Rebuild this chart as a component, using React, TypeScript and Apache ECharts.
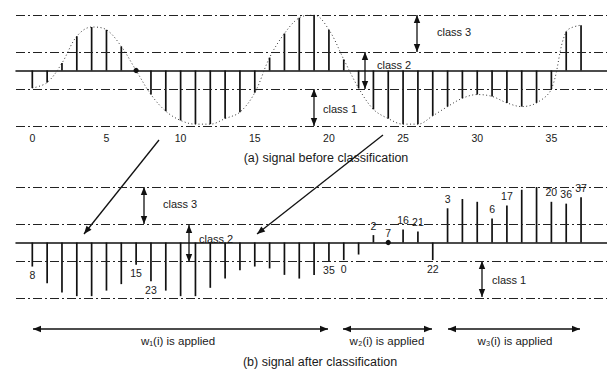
import React, { useEffect, useRef } from "react";
import * as echarts from "echarts";

// Sample values of the signal (index 0..37)
const signal = [
  -0.95, -0.65, 0.4, 1.85, 2.35, 2.2, 1.3, 0,
  -1.3, -2.2, -2.7, -2.9, -2.9, -2.6, -2.25, -1.2,
  0.7, 2.0, 2.85, 3.0, 2.2, 0.6,
  -0.95, -2.1, -2.6, -2.9, -2.9, -2.45, -1.95, -1.5, -1.3, -1.4, -1.75, -1.95, -1.75, -1.0,
  2.1, 2.45,
];
// Order of samples after classification, panel (b)
const classifiedOrder = [
  8, 9, 10, 11, 12, 13, 14, 15, 23, 24, 25, 26, 27, 28, 29, 30, 31, 32, 33, 34, 35, 0, 1,
  2, 7, 16, 21, 22,
  3, 4, 5, 6, 17, 18, 19, 20, 36, 37,
];
// Sample numbers printed next to stems in panel (b)
const labeledSamples = [8, 15, 23, 35, 0, 2, 7, 16, 21, 22, 3, 6, 17, 20, 36, 37];
// Tick labels of panel (a)
const topTicks = [0, 5, 10, 15, 20, 25, 30, 35];
// Class boundary levels (dash-dot lines)
const levels = [3, 1, -1, -3];

const FONT = "'Liberation Sans', Arial, Helvetica, sans-serif";
const INK = "#111";
const X_MIN = -1.1;
const X_MAX = 38.75;

function arrowEls(x1: number, y1: number, x2: number, y2: number, both: boolean) {
  const dx = x2 - x1, dy = y2 - y1;
  const L = Math.hypot(dx, dy);
  const ux = dx / L, uy = dy / L, nx = -uy, ny = ux;
  const head = 8, w = 3.2;
  const tip = (px: number, py: number, sx: number, sy: number) => ({
    type: "polygon",
    silent: true,
    shape: {
      points: [
        [px, py],
        [px - sx * head + nx * w, py - sy * head + ny * w],
        [px - sx * head - nx * w, py - sy * head - ny * w],
      ],
    },
    style: { fill: INK },
  });
  const els: any[] = [
    { type: "line", silent: true, shape: { x1, y1, x2, y2 }, style: { stroke: INK, lineWidth: 1.3 } },
    tip(x2, y2, ux, uy),
  ];
  if (both) els.push(tip(x1, y1, -ux, -uy));
  return els;
}

function txt(text: string, x: number, y: number, align = "left", size = 10) {
  return {
    type: "text",
    silent: true,
    style: { text, x, y, align, verticalAlign: "middle", fontSize: size, fontFamily: FONT, fill: "#1a1a1a" },
  };
}

const stemRender = (params: any, api: any) => {
  const x = api.value(0);
  const v = api.value(1);
  const lab = api.value(2);
  const p0 = api.coord([x, 0]);
  const p1 = api.coord([x, v]);
  const children: any[] = [];
  if (v === 0) {
    children.push({ type: "circle", shape: { cx: p0[0], cy: p0[1], r: 2.6 }, style: { fill: INK } });
  } else {
    children.push({
      type: "line",
      shape: { x1: p0[0], y1: p0[1], x2: p1[0], y2: p1[1] },
      style: { stroke: INK, lineWidth: 1.7 },
    });
  }
  if (lab !== "" && lab != null && !Number.isNaN(lab)) {
    const up = v >= 0;
    children.push({
      type: "text",
      style: {
        text: String(lab),
        x: p1[0],
        y: up ? p1[1] - 4 : p1[1] + 3,
        align: "center",
        verticalAlign: up ? "bottom" : "top",
        fontSize: 10.5,
        fontFamily: FONT,
        fill: "#1a1a1a",
      },
    });
  }
  return { type: "group", children };
};

export default function App() {
  const ref = useRef<HTMLDivElement>(null);
  useEffect(() => {
    document.body.style.margin = "0";
    if (!ref.current) return;
    const chart = echarts.init(ref.current, null, { renderer: "svg" });

    const topData = signal.map((v, i) => [i, v, ""]);
    const bottomData = classifiedOrder.map((s, p) => [
      p,
      signal[s],
      labeledSamples.includes(s) ? String(s) : "",
    ]);

    const dashDot = {
      silent: true,
      symbol: ["none", "none"],
      label: { show: false },
      lineStyle: { type: [9, 3, 2, 3], color: "#222", width: 1 },
      data: levels.map((l) => ({ yAxis: l })),
    };

    const baseAxis = (gridIndex: number) => ({
      gridIndex,
      type: "value",
      min: X_MIN,
      max: X_MAX,
      position: "bottom",
      axisLine: { onZero: true, lineStyle: { color: INK, width: 1.5 } },
      axisTick: { show: false },
      axisLabel: { show: false },
      splitLine: { show: false },
    });

    const graphic: any[] = [
      // panel (a) class arrows
      ...arrowEls(417, 52, 417, 15, true),
      ...arrowEls(365, 52, 365, 89, true),
      ...arrowEls(314, 89, 314, 126, true),
      txt("class 3", 437, 32, "left", 11),
      txt("class 2", 377, 65, "left", 11),
      txt("class 1", 323, 109, "left", 11),
      txt("(a) signal before classification", 326, 158, "center", 12.5),
      // long arrows
      ...arrowEls(159, 140, 84, 234, false),
      ...arrowEls(383, 135, 257, 234, false),
      // panel (b) class arrows
      ...arrowEls(144, 187, 144, 224, true),
      ...arrowEls(189, 225, 189, 262, true),
      ...arrowEls(482, 261, 482, 297, true),
      txt("class 3", 163, 204, "left", 11),
      txt("class 2", 199, 239, "left", 11),
      txt("class 1", 492, 280, "left", 11),
      // window arrows
      ...arrowEls(33, 329, 328, 329, true),
      ...arrowEls(343, 329, 432, 329, true),
      ...arrowEls(448, 329, 580, 329, true),
      txt("w\u2081(i) is applied", 178, 341, "center", 11.5),
      txt("w\u2082(i) is applied", 387, 341, "center", 11.5),
      txt("w\u2083(i) is applied", 515, 341, "center", 11.5),
      txt("(b) signal after classification", 320, 362, "center", 12.5),
    ];

    chart.setOption({
      animation: false,
      backgroundColor: "#ffffff",
      grid: [
        { left: 16, right: 0, top: 15, height: 111 },
        { left: 16, right: 0, top: 187, height: 111 },
      ],
      xAxis: [
        baseAxis(0),
        {
          gridIndex: 0,
          type: "value",
          min: X_MIN,
          max: X_MAX,
          position: "bottom",
          axisLine: { show: false, onZero: false },
          axisTick: { show: false },
          axisLabel: {
            show: true,
            customValues: topTicks,
            margin: 6,
            fontSize: 10.5,
            color: "#1a1a1a",
            fontFamily: FONT,
          },
          splitLine: { show: false },
        },
        baseAxis(1),
      ],
      yAxis: [
        { gridIndex: 0, type: "value", min: -3, max: 3, show: false, splitLine: { show: false } },
        { gridIndex: 1, type: "value", min: -3, max: 3, show: false, splitLine: { show: false } },
      ],
      series: [
        {
          type: "line",
          xAxisIndex: 0,
          yAxisIndex: 0,
          data: signal.map((v, i) => [i, v]),
          smooth: 0.35,
          symbol: "none",
          silent: true,
          lineStyle: { type: [1, 2.5], color: "#333", width: 1 },
          markLine: dashDot,
          z: 1,
        },
        {
          type: "custom",
          xAxisIndex: 0,
          yAxisIndex: 0,
          data: topData,
          renderItem: stemRender,
          z: 3,
        },
        {
          type: "line",
          xAxisIndex: 2,
          yAxisIndex: 1,
          data: bottomData.map((d) => [d[0], d[1]]),
          symbol: "none",
          silent: true,
          lineStyle: { opacity: 0 },
          markLine: dashDot,
          z: 1,
        },
        {
          type: "custom",
          xAxisIndex: 2,
          yAxisIndex: 1,
          data: bottomData,
          dimensions: ["x", "y", { name: "lab", type: "ordinal" }],
          renderItem: stemRender,
          z: 3,
        },
      ],
      graphic,
    });
    return () => chart.dispose();
  }, []);
  return <div ref={ref} style={{ width: 607, height: 369 }} />;
}
